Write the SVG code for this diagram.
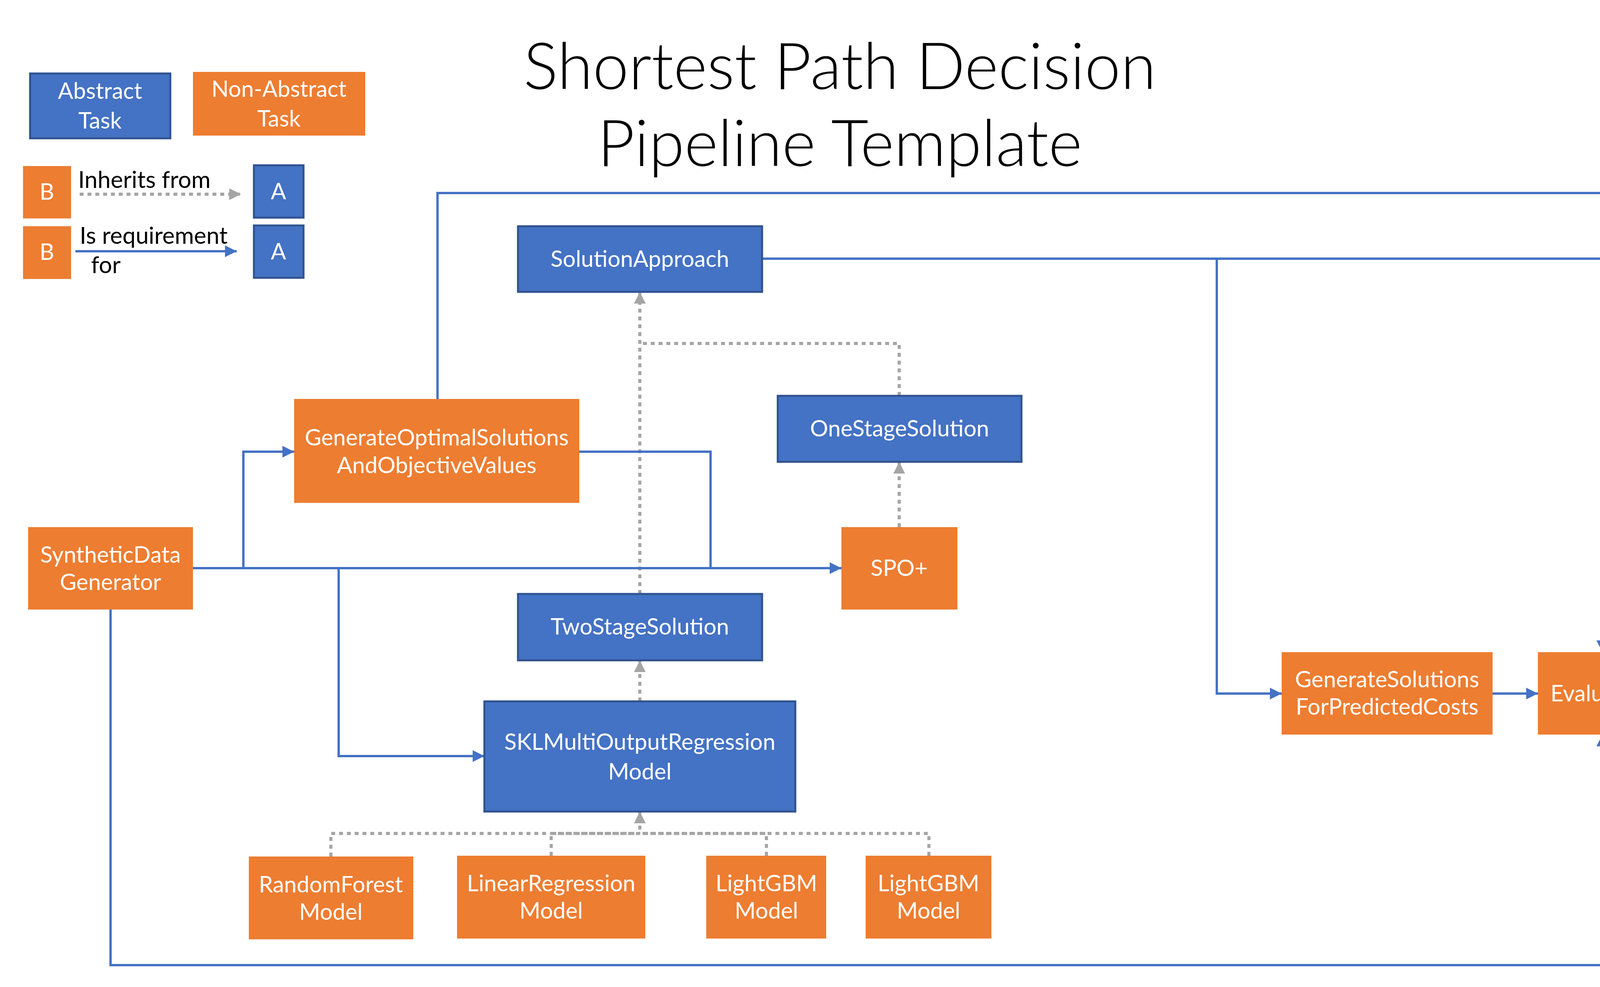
<svg xmlns="http://www.w3.org/2000/svg" width="4400" height="2526" viewBox="0 0 4400 2526">
<style>
.abs{fill:#4472C4;stroke:#2F528F;stroke-width:5}
.con{fill:#ED7D31;stroke:none}
.lbl{font-family:Lato,"Liberation Sans",Arial,sans-serif;font-size:58px;fill:#FFFFFF;text-anchor:middle}
.leg{font-family:Lato,"Liberation Sans",Arial,sans-serif;font-size:60px;fill:#000000}
.title{font-family:Lato,"Liberation Sans",Arial,sans-serif;font-size:165px;font-weight:300;fill:#000000;text-anchor:middle}
.req{fill:none;stroke:#4472C4;stroke-width:6}
.inh{fill:none;stroke:#A5A5A5;stroke-width:8;stroke-dasharray:10 10}
</style>
<defs>
<marker id="ab" markerUnits="userSpaceOnUse" markerWidth="30" markerHeight="30" refX="30" refY="15" orient="auto" viewBox="0 0 30 30">
<path d="M0,0 L30,15 L0,30 z" fill="#4472C4"/>
</marker>
<marker id="ag" markerUnits="userSpaceOnUse" markerWidth="30" markerHeight="30" refX="30" refY="15" orient="auto" viewBox="0 0 30 30">
<path d="M0,0 L30,15 L0,30 z" fill="#A5A5A5"/>
</marker>
</defs>
<rect width="4400" height="2526" fill="#FFFFFF"/>

<g id="title">
<text class="title" x="2150" y="228">Shortest Path Decision</text>
<text class="title" x="2150" y="425">Pipeline Template</text>
</g>

<g id="legend">
<rect class="abs" x="77" y="188" width="359" height="166"/>
<text class="lbl" x="256" y="253">Abstract</text>
<text class="lbl" x="256" y="329">Task</text>
<rect class="con" x="494" y="184" width="441" height="163"/>
<text class="lbl" x="714" y="248">Non-Abstract</text>
<text class="lbl" x="714" y="324">Task</text>
<rect class="con" x="59" y="425" width="123" height="134"/>
<text class="lbl" x="120" y="511">B</text>
<rect class="abs" x="650" y="423" width="127" height="134"/>
<text class="lbl" x="713" y="510">A</text>
<rect class="con" x="59" y="579" width="123" height="135"/>
<text class="lbl" x="120" y="665">B</text>
<rect class="abs" x="650" y="577" width="127" height="134"/>
<text class="lbl" x="713" y="664">A</text>
<path class="inh" d="M204,497 H617" marker-end="url(#ag)"/>
<path class="req" d="M193,643 H606" marker-end="url(#ab)"/>
<text class="leg" x="200" y="481">Inherits from</text>
<text class="leg" x="204" y="624">Is requirement</text>
<text class="leg" x="233" y="699">for</text>
</g>

<g id="connectors">
<path class="inh" d="M1638,1520 V747" marker-end="url(#ag)"/>
<path class="inh" d="M2302,1013 V879 H1638"/>
<path class="inh" d="M2302,1349 V1182" marker-end="url(#ag)"/>
<path class="inh" d="M1638,1795 V1690" marker-end="url(#ag)"/>
<path class="inh" d="M847,2192 V2133 H1638 V2077" marker-end="url(#ag)"/>
<path class="inh" d="M1411,2190 V2133 H1638"/>
<path class="inh" d="M1962,2190 V2133 H1638"/>
<path class="inh" d="M2378,2190 V2133 H1638"/>
<path class="req" d="M494,1454 H2154" marker-end="url(#ab)"/>
<path class="req" d="M623,1454 V1156 H753" marker-end="url(#ab)"/>
<path class="req" d="M867,1454 V1935 H1240" marker-end="url(#ab)"/>
<path class="req" d="M1483,1156 H1819 V1454"/>
<path class="req" d="M1120,1021 V494 H4102 V1669" marker-end="url(#ab)"/>
<path class="req" d="M1951,662 H4102"/>
<path class="req" d="M3115,662 V1775 H3281" marker-end="url(#ab)"/>
<path class="req" d="M3821,1775 H3937" marker-end="url(#ab)"/>
<path class="req" d="M283,1560 V2470 H4102 V1880" marker-end="url(#ab)"/>
</g>

<g id="SolutionApproach">
<rect class="abs" x="1326" y="579" width="625" height="168"/>
<text class="lbl" x="1638" y="683">SolutionApproach</text>
</g>
<g id="OneStageSolution">
<rect class="abs" x="1991" y="1013" width="624" height="169"/>
<text class="lbl" x="2303" y="1117">OneStageSolution</text>
</g>
<g id="GenerateOptimalSolutionsAndObjectiveValues">
<rect class="con" x="753" y="1021" width="730" height="266"/>
<text class="lbl" x="1118" y="1140">GenerateOptimalSolutions</text>
<text class="lbl" x="1118" y="1211">AndObjectiveValues</text>
</g>
<g id="SyntheticDataGenerator">
<rect class="con" x="72" y="1349" width="422" height="211"/>
<text class="lbl" x="283" y="1440">SyntheticData</text>
<text class="lbl" x="283" y="1510">Generator</text>
</g>
<g id="SPO">
<rect class="con" x="2154" y="1349" width="297" height="211"/>
<text class="lbl" x="2302" y="1474">SPO+</text>
</g>
<g id="TwoStageSolution">
<rect class="abs" x="1326" y="1520" width="625" height="170"/>
<text class="lbl" x="1638" y="1624">TwoStageSolution</text>
</g>
<g id="SKLMultiOutputRegressionModel">
<rect class="abs" x="1240" y="1795" width="796" height="282"/>
<text class="lbl" x="1638" y="1919">SKLMultiOutputRegression</text>
<text class="lbl" x="1638" y="1995">Model</text>
</g>
<g id="RandomForestModel">
<rect class="con" x="637" y="2192" width="421" height="212"/>
<text class="lbl" x="847" y="2284">RandomForest</text>
<text class="lbl" x="847" y="2354">Model</text>
</g>
<g id="LinearRegressionModel">
<rect class="con" x="1170" y="2190" width="482" height="212"/>
<text class="lbl" x="1411" y="2281">LinearRegression</text>
<text class="lbl" x="1411" y="2351">Model</text>
</g>
<g id="LightGBMModel1">
<rect class="con" x="1808" y="2190" width="307" height="212"/>
<text class="lbl" x="1962" y="2281">LightGBM</text>
<text class="lbl" x="1962" y="2351">Model</text>
</g>
<g id="LightGBMModel2">
<rect class="con" x="2216" y="2190" width="322" height="212"/>
<text class="lbl" x="2377" y="2281">LightGBM</text>
<text class="lbl" x="2377" y="2351">Model</text>
</g>
<g id="GenerateSolutionsForPredictedCosts">
<rect class="con" x="3281" y="1669" width="540" height="211"/>
<text class="lbl" x="3551" y="1759">GenerateSolutions</text>
<text class="lbl" x="3551" y="1829">ForPredictedCosts</text>
</g>
<g id="Evaluation">
<rect class="con" x="3937" y="1669" width="329" height="211"/>
<text class="lbl" x="4102" y="1795">Evaluation</text>
</g>
</svg>
